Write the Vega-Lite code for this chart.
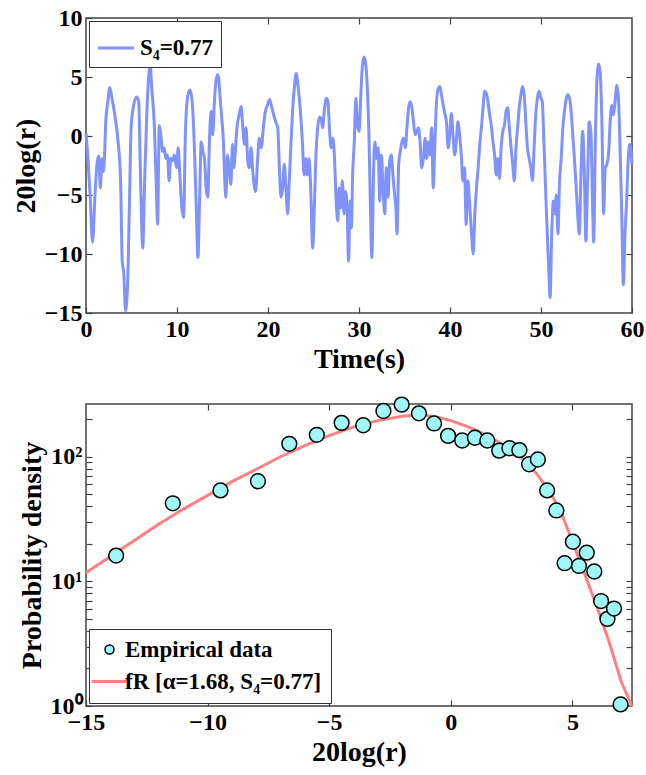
{
  "$schema": "https://vega.github.io/schema/vega-lite/v6.json",
  "background": "white",
  "padding": {"left": 11, "top": 5, "right": 0, "bottom": 2},
  "config": {
    "font": "Liberation Serif",
    "view": {"stroke": "#444", "strokeWidth": 1.5},
    "axis": {
      "labelFont": "Liberation Serif", "labelFontWeight": "bold", "labelFontSize": 24, "labelColor": "black",
      "titleFont": "Liberation Serif", "titleFontWeight": "bold", "titleFontSize": 28, "titleColor": "black",
      "domain": false, "grid": false, "tickColor": "#444", "tickSize": -6, "tickWidth": 1.2,
      "labelPadding": 10, "labelFlush": false, "labelOverlap": false, "titlePadding": 4
    },
    "legend": {
      "labelFont": "Liberation Serif", "labelFontWeight": "bold", "labelFontSize": 23, "labelColor": "black",
      "strokeColor": "#333", "fillColor": "white", "padding": 7, "labelLimit": 400
    }
  },
  "spacing": 19,
  "resolve": {
    "scale": {"stroke": "independent", "shape": "independent", "strokeWidth": "independent"},
    "legend": {"stroke": "independent", "shape": "independent", "strokeWidth": "independent"}
  },
  "datasets": {
    "ts": [
      {"t":0,"v":0.24},{"t":0.23,"v":-2.1},{"t":0.45,"v":-5},{"t":0.72,"v":-9.0},{"t":0.99,"v":-5},{"t":1.22,"v":-2.3},{"t":1.40,"v":-1.7},{"t":1.58,"v":-4.4},{"t":1.76,"v":-1.9},{"t":1.90,"v":-3},{"t":2.03,"v":-1.9},{"t":2.17,"v":1.2},{"t":2.40,"v":2.9},{"t":2.62,"v":4.1},{"t":2.85,"v":3.2},{"t":3.16,"v":1.8},{"t":3.53,"v":-0.5},{"t":3.80,"v":-3.8},{"t":3.98,"v":-10.6},{"t":4.16,"v":-11.7},{"t":4.34,"v":-14.8},{"t":4.57,"v":-12.6},{"t":4.75,"v":-6.6},{"t":4.97,"v":0.9},{"t":5.24,"v":2.6},{"t":5.56,"v":3.3},{"t":5.79,"v":2.9},{"t":5.97,"v":-2.7},{"t":6.24,"v":-9.5},{"t":6.42,"v":-4.4},{"t":6.65,"v":1.2},{"t":6.87,"v":4.9},{"t":7.05,"v":6.0},{"t":7.23,"v":4.0},{"t":7.51,"v":0.9},{"t":7.73,"v":-4.4},{"t":7.87,"v":-7.5},{"t":8.05,"v":0.9},{"t":8.23,"v":0.1},{"t":8.41,"v":-1.3},{"t":8.59,"v":-1.0},{"t":8.77,"v":-1.9},{"t":8.95,"v":-1.6},{"t":9.13,"v":-3.8},{"t":9.31,"v":-1.9},{"t":9.50,"v":-2.1},{"t":9.72,"v":-1.6},{"t":9.95,"v":-2.7},{"t":10.13,"v":-1.0},{"t":10.31,"v":-3.3},{"t":10.53,"v":-6.1},{"t":10.72,"v":-6.9},{"t":10.94,"v":0.7},{"t":11.21,"v":3.5},{"t":11.44,"v":3.9},{"t":11.67,"v":2.9},{"t":11.89,"v":-0.5},{"t":12.12,"v":-6.1},{"t":12.30,"v":-10.3},{"t":12.48,"v":-5.5},{"t":12.66,"v":-0.5},{"t":12.84,"v":-1.3},{"t":13.02,"v":-1.9},{"t":13.20,"v":-4.4},{"t":13.38,"v":-5.2},{"t":13.56,"v":-0.5},{"t":13.75,"v":2.1},{"t":13.93,"v":0.1},{"t":14.11,"v":2.9},{"t":14.33,"v":4.9},{"t":14.51,"v":5.2},{"t":14.74,"v":3.2},{"t":14.92,"v":1.5},{"t":15.10,"v":-0.5},{"t":15.24,"v":-3.6},{"t":15.37,"v":-5.2},{"t":15.55,"v":-1.6},{"t":15.73,"v":-2.7},{"t":15.92,"v":-4.1},{"t":16.10,"v":-0.7},{"t":16.23,"v":-2.7},{"t":16.41,"v":-1.3},{"t":16.59,"v":0.7},{"t":16.82,"v":1.8},{"t":17.05,"v":2.5},{"t":17.23,"v":0.7},{"t":17.41,"v":-0.7},{"t":17.59,"v":0.7},{"t":17.77,"v":-2.1},{"t":17.95,"v":-2.7},{"t":18.13,"v":-1.0},{"t":18.36,"v":-3.3},{"t":18.63,"v":-4.7},{"t":18.85,"v":-2.1},{"t":19.04,"v":-0.2},{"t":19.26,"v":-1.0},{"t":19.49,"v":0.7},{"t":19.71,"v":2.1},{"t":19.94,"v":2.6},{"t":20.17,"v":3.1},{"t":20.39,"v":2.5},{"t":20.62,"v":1.8},{"t":20.84,"v":1.2},{"t":21.07,"v":0.7},{"t":21.25,"v":-2.7},{"t":21.43,"v":-5.2},{"t":21.61,"v":-4.4},{"t":21.79,"v":-2.4},{"t":21.97,"v":-4.4},{"t":22.16,"v":-6.6},{"t":22.34,"v":-3.8},{"t":22.52,"v":-0.7},{"t":22.70,"v":2.1},{"t":22.92,"v":4.3},{"t":23.10,"v":5.3},{"t":23.33,"v":4.0},{"t":23.56,"v":2.1},{"t":23.78,"v":-0.5},{"t":23.96,"v":-3.3},{"t":24.14,"v":-1.9},{"t":24.32,"v":-3.3},{"t":24.51,"v":-1.9},{"t":24.69,"v":-4.4},{"t":24.91,"v":-9.5},{"t":25.09,"v":-6.1},{"t":25.27,"v":-1.6},{"t":25.46,"v":0.7},{"t":25.64,"v":1.6},{"t":25.82,"v":1.5},{"t":26.00,"v":0.7},{"t":26.18,"v":2.1},{"t":26.41,"v":3.2},{"t":26.59,"v":2.9},{"t":26.77,"v":0.4},{"t":26.95,"v":-1.0},{"t":27.13,"v":-0.2},{"t":27.31,"v":-1.9},{"t":27.49,"v":-5.5},{"t":27.67,"v":-7.2},{"t":27.81,"v":-4.4},{"t":27.99,"v":-6.1},{"t":28.17,"v":-3.8},{"t":28.35,"v":-6.6},{"t":28.53,"v":-4.7},{"t":28.71,"v":-6.6},{"t":28.85,"v":-10.6},{"t":29.03,"v":-5.5},{"t":29.16,"v":-7.8},{"t":29.30,"v":-3.3},{"t":29.48,"v":-0.5},{"t":29.66,"v":3.2},{"t":29.84,"v":0.9},{"t":30.02,"v":0.4},{"t":30.20,"v":3.5},{"t":30.38,"v":6.0},{"t":30.56,"v":6.7},{"t":30.75,"v":6.0},{"t":30.93,"v":3.8},{"t":31.11,"v":-0.5},{"t":31.24,"v":-5.5},{"t":31.42,"v":-10.3},{"t":31.61,"v":-2.7},{"t":31.74,"v":-0.5},{"t":31.92,"v":-1.9},{"t":32.10,"v":-1.0},{"t":32.28,"v":-5.5},{"t":32.46,"v":-1.6},{"t":32.64,"v":-4.4},{"t":32.83,"v":-6.6},{"t":33.01,"v":-2.7},{"t":33.19,"v":-5.2},{"t":33.37,"v":-2.1},{"t":33.55,"v":-1.6},{"t":33.73,"v":-3.3},{"t":33.91,"v":-5.0},{"t":34.05,"v":-6.1},{"t":34.18,"v":-8.3},{"t":34.36,"v":-2.4},{"t":34.54,"v":-1.3},{"t":34.72,"v":-0.5},{"t":34.91,"v":-0.2},{"t":35.09,"v":-1.0},{"t":35.27,"v":0.7},{"t":35.45,"v":2.4},{"t":35.63,"v":2.9},{"t":35.81,"v":2.4},{"t":35.99,"v":1.2},{"t":36.17,"v":0.1},{"t":36.35,"v":0.4},{"t":36.53,"v":0.7},{"t":36.71,"v":-0.5},{"t":36.89,"v":-2.7},{"t":37.08,"v":-1.9},{"t":37.26,"v":-0.2},{"t":37.44,"v":-1.9},{"t":37.62,"v":-0.5},{"t":37.80,"v":-1.6},{"t":37.98,"v":0.7},{"t":38.16,"v":-4.4},{"t":38.34,"v":-0.5},{"t":38.52,"v":2.9},{"t":38.70,"v":4.0},{"t":38.88,"v":4.2},{"t":39.06,"v":3.5},{"t":39.25,"v":2.6},{"t":39.43,"v":1.9},{"t":39.61,"v":1.2},{"t":39.79,"v":-1.0},{"t":39.97,"v":0.1},{"t":40.15,"v":1.9},{"t":40.33,"v":0.1},{"t":40.51,"v":-1.6},{"t":40.69,"v":-0.5},{"t":40.87,"v":1.2},{"t":41.05,"v":0.1},{"t":41.24,"v":-1.6},{"t":41.42,"v":-3.8},{"t":41.60,"v":-2.7},{"t":41.78,"v":-7.5},{"t":41.96,"v":-3.8},{"t":42.14,"v":-5.5},{"t":42.37,"v":-8.3},{"t":42.55,"v":-10.0},{"t":42.73,"v":-6.6},{"t":42.91,"v":-4.4},{"t":43.09,"v":-2.7},{"t":43.27,"v":-0.7},{"t":43.45,"v":0.7},{"t":43.63,"v":2.4},{"t":43.81,"v":3.8},{"t":43.99,"v":3.6},{"t":44.17,"v":2.9},{"t":44.35,"v":1.8},{"t":44.54,"v":0.9},{"t":44.72,"v":-0.5},{"t":44.90,"v":-1.6},{"t":45.08,"v":-3.3},{"t":45.26,"v":-1.9},{"t":45.44,"v":-3.6},{"t":45.62,"v":-1.0},{"t":45.80,"v":0.4},{"t":45.98,"v":0.9},{"t":46.16,"v":2.1},{"t":46.34,"v":2.4},{"t":46.52,"v":0.7},{"t":46.71,"v":-1.0},{"t":46.89,"v":-2.4},{"t":47.07,"v":-3.8},{"t":47.25,"v":-1.0},{"t":47.43,"v":0.7},{"t":47.61,"v":2.4},{"t":47.79,"v":3.5},{"t":47.97,"v":4.2},{"t":48.15,"v":3.5},{"t":48.33,"v":1.2},{"t":48.51,"v":-1.0},{"t":48.70,"v":-1.9},{"t":48.88,"v":-2.7},{"t":49.06,"v":-3.8},{"t":49.24,"v":-1.0},{"t":49.42,"v":1.8},{"t":49.60,"v":3.2},{"t":49.78,"v":3.8},{"t":49.96,"v":3.3},{"t":50.14,"v":2.9},{"t":50.32,"v":-0.5},{"t":50.50,"v":-4.4},{"t":50.69,"v":-8.3},{"t":50.87,"v":-11.7},{"t":51.00,"v":-13.7},{"t":51.18,"v":-8.3},{"t":51.36,"v":-5.5},{"t":51.54,"v":-6.6},{"t":51.68,"v":-5.0},{"t":51.86,"v":-8.3},{"t":52.04,"v":-3.8},{"t":52.22,"v":-1.9},{"t":52.40,"v":0.7},{"t":52.58,"v":2.1},{"t":52.76,"v":3.1},{"t":52.95,"v":3.5},{"t":53.13,"v":3.2},{"t":53.31,"v":2.1},{"t":53.49,"v":0.1},{"t":53.67,"v":-1.9},{"t":53.85,"v":-4.1},{"t":54.03,"v":-6.6},{"t":54.21,"v":-8.3},{"t":54.39,"v":-3.3},{"t":54.57,"v":0.4},{"t":54.75,"v":-2.7},{"t":54.93,"v":-8.9},{"t":55.12,"v":-3.8},{"t":55.30,"v":1.2},{"t":55.48,"v":0.4},{"t":55.66,"v":-5.5},{"t":55.79,"v":-9.0},{"t":55.97,"v":-0.5},{"t":56.16,"v":4.9},{"t":56.34,"v":6.1},{"t":56.52,"v":5.2},{"t":56.70,"v":0.9},{"t":56.88,"v":-6.6},{"t":57.06,"v":-2.7},{"t":57.24,"v":-2.4},{"t":57.42,"v":-1.6},{"t":57.60,"v":1.2},{"t":57.78,"v":2.6},{"t":57.96,"v":1.8},{"t":58.14,"v":2.9},{"t":58.33,"v":4.3},{"t":58.51,"v":3.2},{"t":58.69,"v":-1.0},{"t":58.87,"v":-6.6},{"t":59.05,"v":-12.6},{"t":59.23,"v":-8.3},{"t":59.41,"v":-5.5},{"t":59.59,"v":-1.9},{"t":59.77,"v":-0.7},{"t":60.00,"v":-2.4}
    ],
    "emp": [
      {"x":-13.76,"p":16.1},{"x":-11.43,"p":42.3},{"x":-9.47,"p":53.7},{"x":-7.93,"p":63.6},{"x":-6.64,"p":127},{"x":-5.51,"p":150},{"x":-4.49,"p":187},{"x":-3.60,"p":179},{"x":-2.77,"p":233},{"x":-2.02,"p":262},{"x":-1.31,"p":223},{"x":-0.69,"p":185},{"x":-0.11,"p":147},{"x":0.47,"p":135},{"x":0.99,"p":142},{"x":1.50,"p":135},{"x":1.99,"p":112},{"x":2.41,"p":117},{"x":2.82,"p":113},{"x":3.22,"p":87},{"x":3.58,"p":95},{"x":3.96,"p":53.7},{"x":4.34,"p":37.1},{"x":5.02,"p":20.8},{"x":4.68,"p":14.0},{"x":5.27,"p":13.3},{"x":5.59,"p":17.0},{"x":5.90,"p":12.0},{"x":6.18,"p":6.95},{"x":6.44,"p":5.0},{"x":6.71,"p":6.05},{"x":6.98,"p":1.03}
    ],
    "fit": [
      {"x":-15,"p":11.75},{"x":-14,"p":15.85},{"x":-13,"p":21.38},{"x":-12,"p":28.84},{"x":-11,"p":38.02},{"x":-10,"p":48.98},{"x":-9,"p":63.1},{"x":-8,"p":79.4},{"x":-7,"p":100},{"x":-6,"p":123},{"x":-5,"p":147.9},{"x":-4,"p":173.8},{"x":-3,"p":195},{"x":-2,"p":211.3},{"x":-1.5,"p":215.3},{"x":-1,"p":213.8},{"x":-0.5,"p":206.5},{"x":0,"p":195},{"x":0.5,"p":179.9},{"x":1,"p":164.1},{"x":1.5,"p":147.9},{"x":2,"p":130.3},{"x":2.5,"p":112.2},{"x":3,"p":94.4},{"x":3.5,"p":74.1},{"x":4,"p":55},{"x":4.5,"p":37.2},{"x":5,"p":20.9},{"x":5.5,"p":11.5},{"x":6,"p":6.31},{"x":6.5,"p":3.31},{"x":7,"p":1.58},{"x":7.45,"p":1.0}
    ]
  },
  "vconcat": [
    {
      "width": 546,
      "height": 295,
      "data": {"name": "ts"},
      "layer": [
        {
          "mark": {"type": "line", "strokeWidth": 3, "interpolate": "monotone"},
          "encoding": {
            "x": {"field": "t", "type": "quantitative", "scale": {"domain": [0, 60], "nice": false},
                  "axis": {"values": [0, 10, 20, 30, 40, 50, 60], "title": "Time(s)"}},
            "y": {"field": "v", "type": "quantitative", "scale": {"domain": [-15, 10], "nice": false},
                  "axis": {"values": [-15, -10, -5, 0, 5, 10], "title": "20log(r)"}},
            "stroke": {"datum": "S₄=0.77", "type": "nominal", "scale": {"domain": ["S₄=0.77"], "range": ["#7f93fb"]},
                       "legend": {"orient": "top-left", "offset": 3, "title": null, "symbolType": "stroke",
                                  "symbolSize": 1300, "symbolStrokeWidth": 3, "symbolStrokeColor": "#7f93fb"}}
          }
        },
        {
          "mark": {"type": "line", "opacity": 0},
          "encoding": {
            "x": {"field": "t", "type": "quantitative", "scale": {"domain": [0, 60], "nice": false},
                  "axis": {"orient": "top", "labels": false, "title": null, "values": [10, 20, 30, 40, 50]}},
            "y": {"field": "v", "type": "quantitative", "scale": {"domain": [-15, 10], "nice": false},
                  "axis": {"orient": "right", "labels": false, "title": null, "values": [-10, -5, 0, 5]}}
          }
        }
      ],
      "resolve": {"axis": {"x": "independent", "y": "independent"}}
    },
    {
      "width": 546,
      "height": 302,
      "layer": [
        {
          "data": {"name": "fit"},
          "mark": {"type": "line"},
          "encoding": {
            "x": {"field": "x", "type": "quantitative", "scale": {"domain": [-15, 7.45], "nice": false},
                  "axis": {"values": [-15, -10, -5, 0, 5], "title": "20log(r)"}},
            "y": {"field": "p", "type": "quantitative", "scale": {"type": "log", "domain": [1, 265], "nice": false},
                  "axis": {"values": [1,2,3,4,5,6,7,8,9,10,20,30,40,50,60,70,80,90,100,200],
                           "labelExpr": "datum.value == 1 ? '10⁰' : datum.value == 10 ? '10¹' : datum.value == 100 ? '10²' : ''",
                           "title": "Probability density"}},
            "stroke": {"datum": "fR [α=1.68, S₄=0.77]", "type": "nominal"},
            "strokeWidth": {"datum": "fR [α=1.68, S₄=0.77]", "type": "nominal"}
          }
        },
        {
          "data": {"name": "emp"},
          "mark": {"type": "point", "shape": "circle", "filled": true, "fill": "#9ff7f7", "size": 220, "opacity": 1},
          "encoding": {
            "x": {"field": "x", "type": "quantitative", "scale": {"domain": [-15, 7.45], "nice": false},
                  "axis": {"orient": "top", "labels": false, "title": null, "values": [-10, -5, 0, 5]}},
            "y": {"field": "p", "type": "quantitative", "scale": {"type": "log", "domain": [1, 265], "nice": false},
                  "axis": {"orient": "right", "labels": false, "title": null,
                           "values": [2,3,4,5,6,7,8,9,10,20,30,40,50,60,70,80,90,100,200]}},
            "shape": {"datum": "Empirical data", "type": "nominal",
                      "scale": {"domain": ["Empirical data", "fR [α=1.68, S₄=0.77]"], "range": ["circle", "M-4,0L4,0"]},
                      "legend": {"orient": "bottom-left", "offset": 3, "title": null, "rowPadding": 8, "padding": 9,
                                 "symbolSize": 80, "symbolFillColor": "#9ff7f7"}},
            "stroke": {"datum": "Empirical data", "type": "nominal",
                       "scale": {"domain": ["Empirical data", "fR [α=1.68, S₄=0.77]"], "range": ["black", "#ff8080"]},
                       "legend": {"orient": "bottom-left", "offset": 3, "title": null, "rowPadding": 8, "padding": 9,
                                  "symbolSize": 80, "symbolFillColor": "#9ff7f7"}},
            "strokeWidth": {"datum": "Empirical data", "type": "nominal",
                            "scale": {"domain": ["Empirical data", "fR [α=1.68, S₄=0.77]"], "range": [1.5, 3]},
                            "legend": {"orient": "bottom-left", "offset": 3, "title": null, "rowPadding": 8, "padding": 9,
                                       "symbolSize": 80, "symbolFillColor": "#9ff7f7"}}
          }
        }
      ],
      "resolve": {"axis": {"x": "independent", "y": "independent"}}
    }
  ]
}
